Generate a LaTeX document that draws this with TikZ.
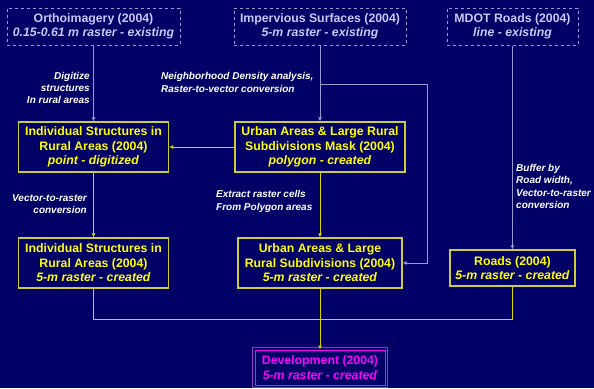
\documentclass[tikz,border=0pt]{standalone}
\usepackage{fontspec}
\setmainfont{Liberation Sans}
\usepackage{tikz}
\usetikzlibrary{arrows.meta}

\definecolor{BgNavy}{RGB}{0,0,102}
\definecolor{SrcLine}{RGB}{153,153,214}
\definecolor{SrcText}{RGB}{200,200,250}
\definecolor{OutYellow}{RGB}{255,255,0}
\definecolor{OutFrame}{RGB}{204,204,51}
\definecolor{OutLine}{RGB}{214,214,0}
\definecolor{DevMagenta}{RGB}{255,0,255}
\definecolor{DevPurple}{RGB}{153,51,204}

\begin{document}
\begin{tikzpicture}[x=1pt,y=-1pt]
  \tikzset{SourceStyle/.style = {
    shape         = rectangle,
    draw          = SrcLine,
    dashed,
    line width    = 1pt,
    text          = SrcText,
    font          = \fontsize{12.3}{14}\selectfont\bfseries,
    align         = center,
    inner sep     = 0pt,
    minimum height= 37pt
    }
  }
  \tikzset{LayerStyle/.style = {
    shape         = rectangle,
    draw          = OutFrame,
    line width    = 1.2pt,
    text          = OutYellow,
    font          = \fontsize{12.3}{14.5}\selectfont\bfseries,
    align         = center,
    inner sep     = 0pt,
    minimum height= 50pt
    }
  }
  \tikzset{DevStyle/.style = {
    shape         = rectangle,
    draw          = DevMagenta,
    line width    = 1pt,
    text          = DevMagenta,
    font          = \fontsize{12.3}{14.5}\selectfont\bfseries,
    align         = center,
    inner sep     = 0pt,
    minimum width = 130pt,
    minimum height= 35pt
    }
  }
  \tikzset{StepLabelStyle/.style = {
    text          = white,
    font          = \fontsize{10}{12.3}\selectfont\bfseries\itshape,
    inner sep     = 0pt
    }
  }
  \tikzset{SrcEdgeStyle/.style = {
    draw          = SrcLine,
    line width    = 1pt,
    -{Latex[length=4pt,width=4pt]}
    }
  }
  \tikzset{OutEdgeStyle/.style = {
    draw          = OutLine,
    line width    = 1pt,
    -{Latex[length=4pt,width=4pt]}
    }
  }

  \fill[BgNavy] (0,0) rectangle (594,388);

  % sources
  \node[SourceStyle, minimum width=173pt](S1) at (93.5, 26.5) {Orthoimagery (2004)\\\textit{0.15-0.61 m raster - existing}};
  \node[SourceStyle, minimum width=172pt](S2) at (320, 26.5) {Impervious Surfaces (2004)\\\textit{5-m raster - existing}};
  \node[SourceStyle, minimum width=131pt](S3) at (512.5, 26.5) {MDOT Roads (2004)\\\textit{line - existing}};

  % intermediate layers
  \node[LayerStyle, minimum width=150pt](B1) at (93.5, 147) {Individual Structures in\\Rural Areas (2004)\\\textit{point - digitized}};
  \node[LayerStyle, minimum width=170pt](B2) at (320, 147) {Urban Areas \& Large Rural\\Subdivisions Mask (2004)\\\textit{polygon - created}};
  \node[LayerStyle, minimum width=150pt](C1) at (93.5, 263) {Individual Structures in\\Rural Areas (2004)\\\textit{5-m raster - created}};
  \node[LayerStyle, minimum width=164pt](C2) at (320, 263) {Urban Areas \& Large\\Rural Subdivisions (2004)\\\textit{5-m raster - created}};
  \node[LayerStyle, minimum width=125pt, minimum height=36pt](C3) at (512.5, 268) {Roads (2004)\\\textit{5-m raster - created}};

  % result
  \node[DevStyle](D1) at (320, 367.5) {Development (2004)\\\textit{5-m raster - created}};
  \draw[DevPurple, line width=1pt] ([xshift=-2pt,yshift=2pt]D1.north west) rectangle ([xshift=2pt,yshift=-2pt]D1.south east);

  % helper points
  \coordinate (K1) at (320, 84);
  \coordinate (K2) at (427, 84);
  \coordinate (M1) at (320, 319);

  % connectors
  \draw[SrcEdgeStyle](S1) -- (B1);
  \draw[SrcEdgeStyle](S2) -- (B2);
  \draw[SrcEdgeStyle](K1) -- (K2) |- (C2.east);
  \draw[SrcEdgeStyle](S3) -- (C3);
  \draw[OutEdgeStyle](B2) -- (B1);
  \draw[OutEdgeStyle](B1) -- (C1);
  \draw[OutEdgeStyle](B2) -- (C2);
  \draw[OutEdgeStyle, -](C1.south) |- (M1);
  \draw[OutEdgeStyle, -](C3.south) |- (M1);
  \draw[OutEdgeStyle](C2) -- (D1);

  % step labels
  \node[StepLabelStyle, anchor=east, align=right](L1) at (90, 88) {Digitize\\structures\\In rural areas};
  \node[StepLabelStyle, anchor=west, align=left](L2) at (161, 82.5) {Neighborhood Density analysis,\\Raster-to-vector conversion};
  \node[StepLabelStyle, anchor=east, align=right](L3) at (87, 204) {Vector-to-raster\\conversion};
  \node[StepLabelStyle, anchor=west, align=left](L4) at (216, 201.5) {Extract raster cells\\From Polygon areas};
  \node[StepLabelStyle, anchor=west, align=left](L5) at (516, 186.5) {Buffer by\\Road width,\\Vector-to-raster\\conversion};

\end{tikzpicture}
\end{document}
